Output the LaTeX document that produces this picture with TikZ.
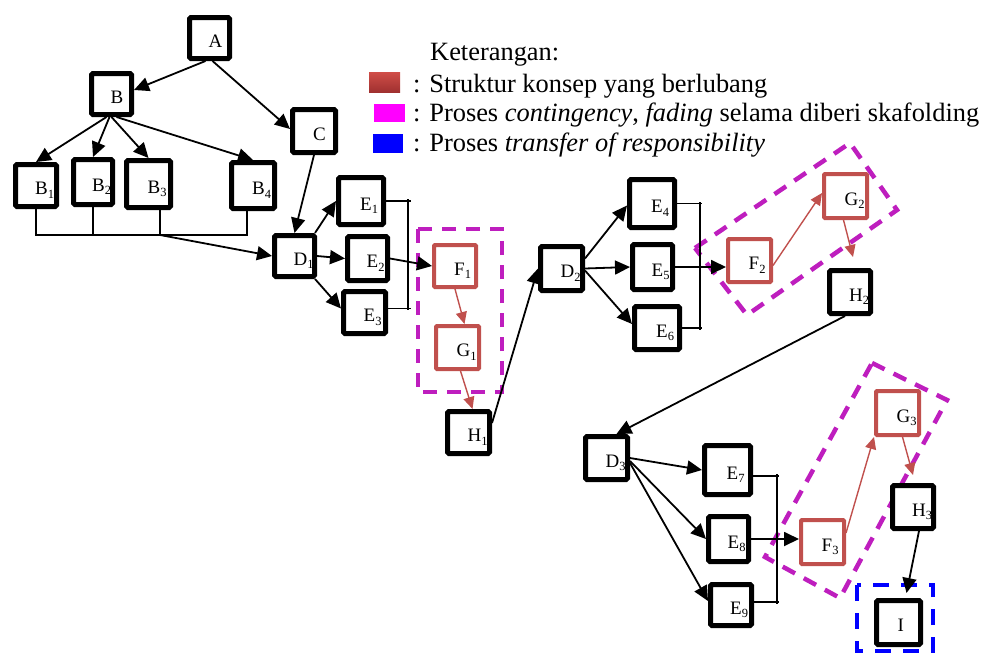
\documentclass[tikz,border=0pt]{standalone}
\usepackage{fontspec}
\setmainfont{Liberation Serif}
\usetikzlibrary{arrows.meta}
\definecolor{boxred}{RGB}{192,80,77}
\definecolor{dmag}{RGB}{190,30,190}
\definecolor{swtop}{RGB}{208,78,72}
\definecolor{swbot}{RGB}{160,48,48}
\definecolor{swmag}{RGB}{255,0,255}
\definecolor{swblue}{RGB}{0,0,255}
\newcommand\sbs[1]{\raisebox{-3.5pt}{\fontsize{12.5}{12.5}\selectfont #1}}
\newcommand\bx[6]{\node[#1, minimum width=#4pt, minimum height=#5pt] (#2) at (#3) {};
  \node[lbl] (#2t) at ([yshift=-9pt,xshift=-1pt]#2.center) {#6};}
\begin{document}
\begin{tikzpicture}[x=1pt,y=-1pt,
 box/.style={draw=black, line width=5pt, rounded corners=1.5pt, fill=white, inner sep=0pt},
 rbox/.style={draw=boxred, line width=4pt, rounded corners=1pt, fill=white, inner sep=0pt},
 lbl/.style={anchor=base west, inner sep=0pt, font=\fontsize{19}{19}\selectfont},
 arr/.style={line width=1.8pt, -{Triangle[length=15pt,width=14pt]}},
 rarr/.style={draw=boxred, line width=1.4pt, -{Triangle[length=12pt,width=11pt]}, boxred},
 brk/.style={line width=1.4pt},
 magd/.style={draw=dmag, line width=4.5pt, dash pattern=on 14pt off 10pt},
 blud/.style={draw=swblue, line width=4pt, dash pattern=on 16pt off 12pt},
 legt/.style={anchor=base west, inner sep=0pt, font=\fontsize{26.4}{26.4}\selectfont}]

\useasboundingbox (0,0) rectangle (984,653);

% dashed frames
\draw[magd] (418,229) rectangle (502,392);
\draw[magd] (695,248) -- (850,143) -- (897,210) -- (747,315) -- cycle;
\draw[magd] (872,363) -- (947,400) -- (840,598) -- (765,557) -- cycle;
\draw[blud] (857,585) rectangle (933,651);

% legend
\node[legt] (k) at (430,60) {Keterangan:};
\shade[top color=swtop, bottom color=swbot] (369,72) rectangle (400,92);
\node[legt] (l1) at (413,92) {: Struktur konsep yang berlubang};
\fill[swmag] (374,104) rectangle (405,122);
\node[legt] (l2) at (413,121) {: Proses \textit{contingency}, \textit{fading} selama diberi skafolding};
\fill[swblue] (373,134) rectangle (403,153);
\node[legt] (l3) at (413,151) {: Proses \textit{transfer of responsibility}};

% nodes
\bx{box}{A}{209.5,38}{40}{41}{A}
\bx{box}{B}{111.5,94}{40}{41}{B}
\bx{box}{C}{314,131}{43}{43}{C}
\bx{box}{B1}{36,185.5}{41}{42}{B\sbs{1}}
\bx{box}{B2}{93,182}{39}{45}{B\sbs{2}}
\bx{box}{B3}{148.5,184}{44}{47}{B\sbs{3}}
\bx{box}{B4}{253,185.5}{43}{46}{B\sbs{4}}
\bx{box}{D1}{294.5,256}{40}{41}{D\sbs{1}}
\bx{box}{E1}{361,201}{45}{47}{E\sbs{1}}
\bx{box}{E2}{367.5,258.5}{40}{44}{E\sbs{2}}
\bx{box}{E3}{364.5,312.5}{42}{42}{E\sbs{3}}
\bx{rbox}{F1}{455,266}{42}{42}{F\sbs{1}}
\bx{rbox}{G1}{457.5,347.5}{43}{43}{G\sbs{1}}
\bx{box}{H1}{468.5,432.5}{42}{42}{H\sbs{1}}
\bx{box}{D2}{561.5,268.5}{42}{44}{D\sbs{2}}
\bx{box}{E4}{652,203.5}{45}{48}{E\sbs{4}}
\bx{box}{E5}{652.5,267}{40}{45}{E\sbs{5}}
\bx{box}{E6}{657,328}{45}{43}{E\sbs{6}}
\bx{rbox}{F2}{749.5,260.5}{43}{43}{F\sbs{2}}
\bx{rbox}{G2}{845.5,196}{43}{44}{G\sbs{2}}
\bx{box}{H2}{850,292}{41}{43}{H\sbs{2}}
\bx{box}{D3}{606.5,458}{42}{43}{D\sbs{3}}
\bx{box}{E7}{727.5,470}{46}{49}{E\sbs{7}}
\bx{box}{E8}{728.5,539}{40}{45}{E\sbs{8}}
\bx{box}{E9}{731,605}{41}{41}{E\sbs{9}}
\bx{rbox}{F3}{822.5,542}{43}{44}{F\sbs{3}}
\bx{rbox}{G3}{897.5,413}{43}{44}{G\sbs{3}}
\bx{box}{H3}{913,507}{41}{43}{H\sbs{3}}
\bx{box}{I}{898.5,622.5}{44}{44}{I}

% tree top
\draw[arr] ([xshift=-4pt]A.south) -- ([yshift=4pt]B.east);
\draw[arr] ([xshift=3pt]A.south) -- ([yshift=2pt]C.west);
\draw[arr] ([xshift=-5pt]B.south) -- (B1.north);
\draw[arr] ([xshift=-2pt]B.south) -- (B2.north);
\draw[arr] (B.south) -- (B3.north);
\draw[arr] ([xshift=5pt]B.south) -- (B4.north);

% bus
\coordinate (bus1) at (37,235);
\coordinate (bus3) at (160,235);
\coordinate (bus4) at (247,235);
\draw[brk] (B1.south) |- (bus4) -- ([xshift=-6pt]B4.south);
\draw[brk] (B2.south) -- (B2.south |- bus1);
\draw[brk] (bus3) -- (bus3 |- B3.south);
\draw[arr] (bus3) -- (D1.west);
\draw[arr] (C.south) -- (D1.north);

% D1 group
\draw[arr] ([xshift=-2pt]D1.north east) -- (E1.west);
\draw[arr] (D1.east) -- (E2.west);
\draw[arr] ([xshift=-2pt]D1.south east) -- ([yshift=4pt]E3.west);
\coordinate (k1a) at (411,201);
\coordinate (k1b) at (411,308.5);
\coordinate (k1t) at (408,199);
\coordinate (k1u) at (408,310);
\draw[brk] (E1.east) -- (k1a);
\draw[brk] ([yshift=4pt]E3.east) -- (k1b);
\draw[brk] (k1t) -- (k1u);
\draw[arr] (E2.east) -- (F1.west);
\draw[rarr] (F1.south) -- ([xshift=7pt]G1.north);
\draw[rarr] ([xshift=3pt]G1.south) -- ([xshift=4pt]H1.north);
\draw[arr] ([yshift=-14pt]H1.north east) -- (D2.west);

% D2 group
\draw[arr] ([yshift=10pt]D2.east) -- ([yshift=-2pt]E4.west);
\draw[arr] (D2.east) -- (E5.west);
\draw[arr] ([yshift=-2pt]D2.east) -- ([yshift=4pt]E6.west);
\coordinate (k2a) at (702,203.5);
\coordinate (k2b) at (702,328);
\coordinate (k2t) at (700,202);
\coordinate (k2u) at (700,330);
\draw[brk] (E4.east) -- (k2a);
\draw[brk] (E6.east) -- (k2b);
\draw[brk] (k2t) -- (k2u);
\draw[arr] (E5.east) -- (E5.east -| F2.west);
\draw[rarr] ([yshift=-5pt]F2.east) -- ([yshift=3pt]G2.west);
\draw[rarr] ([xshift=-2pt]G2.south) -- ([xshift=3pt,yshift=11pt]H2.north);
\draw[arr] ([xshift=-5pt]H2.south) -- ([xshift=10pt]D3.north);

% D3 group
\draw[arr] (D3.east) -- (E7.west);
\draw[arr] ([yshift=-3pt]D3.east) -- (E8.west);
\draw[arr] ([yshift=-5pt]D3.east) -- ([yshift=4pt]E9.west);
\coordinate (k3a) at (779,476);
\coordinate (k3b) at (779,602);
\coordinate (k3t) at (777,474);
\coordinate (k3u) at (777,604);
\draw[brk] ([yshift=-6pt]E7.east) -- (k3a);
\draw[brk] ([yshift=3pt]E9.east) -- (k3b);
\draw[brk] (k3t) -- (k3u);
\draw[arr] (E8.east) -- (E8.east -| F3.west);
\draw[rarr] ([yshift=9pt]F3.east) -- (G3.south west);
\draw[rarr] ([xshift=5pt]G3.south) -- ([yshift=8pt]H3.north);
\draw[arr] ([xshift=6pt]H3.south) -- ([xshift=8pt,yshift=5pt]I.north);
\end{tikzpicture}
\end{document}
